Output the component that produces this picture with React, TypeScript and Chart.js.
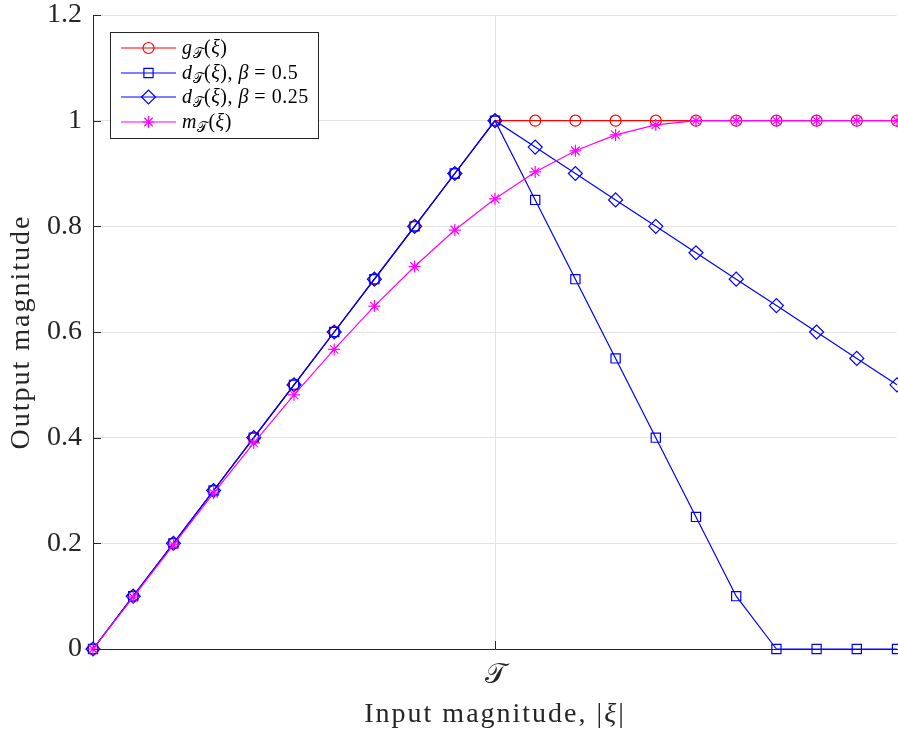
import React, { useEffect, useRef } from "react";
import { Chart, registerables } from "chart.js";

Chart.register(...registerables);

const xValues = [0, 1, 2, 3, 4, 5, 6, 7, 8, 9, 10, 11, 12, 13, 14, 15, 16, 17, 18, 19, 20];
const gT = [0, 0.1, 0.2, 0.3, 0.4, 0.5, 0.6, 0.7, 0.8, 0.9, 1, 1, 1, 1, 1, 1, 1, 1, 1, 1, 1];
const dBeta05 = [0, 0.1, 0.2, 0.3, 0.4, 0.5, 0.6, 0.7, 0.8, 0.9, 1, 0.85, 0.7, 0.55, 0.4, 0.25, 0.1, 0, 0, 0, 0];
const dBeta025 = [0, 0.1, 0.2, 0.3, 0.4, 0.5, 0.6, 0.7, 0.8, 0.9, 1, 0.95, 0.9, 0.85, 0.8, 0.75, 0.7, 0.65, 0.6, 0.55, 0.5];
const mT = [0, 0.098, 0.197, 0.295, 0.39, 0.481, 0.567, 0.649, 0.724, 0.793, 0.852, 0.903, 0.943, 0.973, 0.992, 1, 1, 1, 1, 1, 1];
const yTicks = [0, 0.2, 0.4, 0.6, 0.8, 1, 1.2];
const xTickValue = 10;
const xTickLabel = "\u{1D4AF}";
const yTitle = "Output magnitude";

const SERIF = "'Liberation Serif', 'DejaVu Serif', serif";
const AXIS = "#262626";

type Part = { t: string; it?: boolean; sub?: boolean };

function setFont(ctx: CanvasRenderingContext2D, p: Part, size: number) {
  const s = p.sub ? size * 0.72 : size;
  ctx.font = `${p.it ? "italic " : ""}${s}px ${SERIF}`;
}

function drawMath(ctx: CanvasRenderingContext2D, parts: Part[], x: number, y: number, size: number) {
  let cx = x;
  for (const p of parts) {
    setFont(ctx, p, size);
    const dy = p.sub ? size * 0.22 : 0;
    ctx.fillText(p.t, cx, y + dy);
    cx += ctx.measureText(p.t).width;
  }
  return cx - x;
}

function mathWidth(ctx: CanvasRenderingContext2D, parts: Part[], size: number) {
  let w = 0;
  for (const p of parts) {
    setFont(ctx, p, size);
    w += ctx.measureText(p.t).width;
  }
  return w;
}

function drawMarker(ctx: CanvasRenderingContext2D, style: string, r: number, x: number, y: number) {
  ctx.beginPath();
  if (style === "circle") {
    ctx.arc(x, y, r, 0, Math.PI * 2);
  } else if (style === "rect") {
    const s = r * Math.SQRT1_2;
    ctx.rect(x - s, y - s, 2 * s, 2 * s);
  } else if (style === "rectRot") {
    ctx.moveTo(x - r, y);
    ctx.lineTo(x, y - r);
    ctx.lineTo(x + r, y);
    ctx.lineTo(x, y + r);
    ctx.closePath();
  } else if (style === "star") {
    for (let k = 0; k < 4; k++) {
      const a = (k * Math.PI) / 4;
      ctx.moveTo(x - Math.cos(a) * r, y - Math.sin(a) * r);
      ctx.lineTo(x + Math.cos(a) * r, y + Math.sin(a) * r);
    }
  }
  ctx.stroke();
}

const T = "\u{1D4AF}";
const legendItems: { color: string; style: string; radius: number; parts: Part[] }[] = [
  { color: "#ff0000", style: "circle", radius: 5.5, parts: [{ t: "g", it: true }, { t: T, sub: true }, { t: "(" }, { t: "ξ", it: true }, { t: ")" }] },
  { color: "#0000ff", style: "rect", radius: 6.5, parts: [{ t: "d", it: true }, { t: T, sub: true }, { t: "(" }, { t: "ξ", it: true }, { t: ")," }, { t: " " }, { t: "β", it: true }, { t: " = 0.5" }] },
  { color: "#0000ff", style: "rectRot", radius: 7, parts: [{ t: "d", it: true }, { t: T, sub: true }, { t: "(" }, { t: "ξ", it: true }, { t: ")," }, { t: " " }, { t: "β", it: true }, { t: " = 0.25" }] },
  { color: "#ff00ff", style: "star", radius: 6, parts: [{ t: "m", it: true }, { t: T, sub: true }, { t: "(" }, { t: "ξ", it: true }, { t: ")" }] },
];

const overlay = {
  id: "overlay",
  afterDraw(chart: any) {
    const ctx: CanvasRenderingContext2D = chart.ctx;
    const { left, right, top, bottom } = chart.chartArea;
    const xs = chart.scales.x;
    const ys = chart.scales.y;
    ctx.save();
    ctx.strokeStyle = AXIS;
    ctx.lineWidth = 1;
    ctx.beginPath();
    for (const v of yTicks) {
      const py = Math.round(ys.getPixelForValue(v)) + 0.5;
      ctx.moveTo(left, py);
      ctx.lineTo(left + 8, py);
    }
    const px = Math.round(xs.getPixelForValue(xTickValue)) + 0.5;
    ctx.moveTo(px, bottom);
    ctx.lineTo(px, bottom - 8);
    ctx.stroke();

    ctx.fillStyle = AXIS;
    ctx.textBaseline = "alphabetic";
    ctx.textAlign = "left";
    const tsize = 28;
    (ctx as any).letterSpacing = "2px";
    const xt: Part[] = [{ t: "Input magnitude, |" }, { t: "ξ", it: true }, { t: "|" }];
    const xw = mathWidth(ctx, xt, tsize);
    drawMath(ctx, xt, (left + right) / 2 - xw / 2, 722, tsize);

    ctx.save();
    ctx.translate(29, (top + bottom) / 2);
    ctx.rotate(-Math.PI / 2);
    ctx.font = `${tsize}px ${SERIF}`;
    ctx.textAlign = "center";
    ctx.fillText(yTitle, 0, 0);
    ctx.restore();
    (ctx as any).letterSpacing = "0px";

    const bx = 110.5, by = 32.5, bw = 208, bh = 106;
    ctx.fillStyle = "#ffffff";
    ctx.fillRect(bx, by, bw, bh);
    ctx.strokeStyle = AXIS;
    ctx.lineWidth = 1;
    ctx.strokeRect(bx, by, bw, bh);
    const rows = [48, 73, 97, 122];
    (ctx as any).letterSpacing = "0.5px";
    legendItems.forEach((it, i) => {
      const ry = rows[i];
      ctx.strokeStyle = it.color;
      ctx.lineWidth = 1.2;
      ctx.beginPath();
      ctx.moveTo(121, ry);
      ctx.lineTo(176, ry);
      ctx.stroke();
      drawMarker(ctx, it.style, it.radius, 148.5, ry);
      ctx.fillStyle = "#000000";
      ctx.textAlign = "left";
      drawMath(ctx, it.parts, 182, ry + 6, 20);
    });
    (ctx as any).letterSpacing = "0px";
    ctx.restore();
  },
};

export default function App() {
  const ref = useRef<HTMLCanvasElement | null>(null);
  useEffect(() => {
    if (!ref.current) return;
    const mk = (vals: number[]) => xValues.map((x, i) => ({ x, y: vals[i] }));
    const base = { borderWidth: 1.2, pointBorderWidth: 1.2, pointBackgroundColor: "rgba(0,0,0,0)", clip: false as any, tension: 0 };
    const chart = new Chart(ref.current, {
      type: "line",
      data: {
        datasets: [
          { ...base, label: "g", data: mk(gT), borderColor: "#ff0000", pointBorderColor: "#ff0000", pointStyle: "circle", pointRadius: 5.5, order: 3 },
          { ...base, label: "d05", data: mk(dBeta05), borderColor: "#0000ff", pointBorderColor: "#0000ff", pointStyle: "rect", pointRadius: 6.5, order: 2 },
          { ...base, label: "d025", data: mk(dBeta025), borderColor: "#0000ff", pointBorderColor: "#0000ff", pointStyle: "rectRot", pointRadius: 7, order: 1 },
          { ...base, label: "m", data: mk(mT), borderColor: "#ff00ff", pointBorderColor: "#ff00ff", pointStyle: "star", pointRadius: 6, order: 0 },
        ],
      },
      options: {
        responsive: false,
        animation: false,
        devicePixelRatio: 1,
        events: [],
        layout: { autoPadding: false, padding: { top: 15, right: 1, left: 0, bottom: 0 } },
        plugins: { legend: { display: false }, tooltip: { enabled: false }, title: { display: false } },
        scales: {
          x: {
            type: "linear",
            min: 0,
            max: 20,
            afterFit: (s: any) => { s.height = 82; s.paddingLeft = 0; s.paddingRight = 0; },
            afterBuildTicks: (s: any) => { s.ticks = [{ value: xTickValue }]; },
            ticks: { callback: () => xTickLabel, font: { family: SERIF, size: 28 }, color: AXIS, padding: 10, maxRotation: 0 },
            grid: { color: "#e3e3e3", drawTicks: false, lineWidth: 1 },
            border: { color: AXIS, width: 1 },
          },
          y: {
            type: "linear",
            min: 0,
            max: 1.2,
            afterFit: (s: any) => { s.width = 93; s.paddingTop = 0; s.paddingBottom = 0; },
            afterBuildTicks: (s: any) => { s.ticks = yTicks.map((v) => ({ value: v })); },
            ticks: { callback: (v: any) => String(Math.round(Number(v) * 10) / 10), font: { family: SERIF, size: 28 }, color: AXIS, padding: 11 },
            grid: { color: "#e3e3e3", drawTicks: false, lineWidth: 1 },
            border: { color: AXIS, width: 1 },
          },
        },
      },
      plugins: [overlay],
    });
    return () => chart.destroy();
  }, []);
  return (
    <div style={{ position: "fixed", left: 0, top: 0, width: 898, height: 731, background: "#fff" }}>
      <canvas ref={ref} width={898} height={731} style={{ display: "block" }} />
    </div>
  );
}
